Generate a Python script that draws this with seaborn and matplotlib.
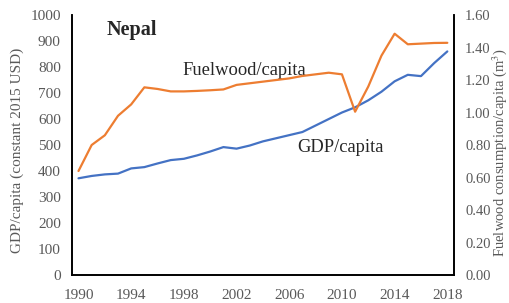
import numpy as np
import pandas as pd
import matplotlib
matplotlib.use("Agg")
import matplotlib.pyplot as plt
import seaborn as sns
from matplotlib.ticker import FormatStrFormatter

years = list(range(1990, 2019))
gdp = [372, 381, 387, 390, 410, 415, 429, 442, 447, 460,
       475, 492, 486, 498, 514, 526, 538, 550, 575, 600,
       625, 645, 672, 705, 745, 770, 765, 815, 860]
fuelwood = [0.64, 0.80, 0.86, 0.98, 1.05, 1.155, 1.145, 1.13, 1.13, 1.133,
            1.137, 1.142, 1.17, 1.18, 1.19, 1.20, 1.21, 1.225, 1.235, 1.245,
            1.235, 1.005, 1.16, 1.35, 1.485, 1.42, 1.424, 1.428, 1.429]

df = pd.DataFrame({"year": years, "gdp": gdp, "fuelwood": fuelwood})

sns.set_style("white")
plt.rcParams['font.family'] = ['Liberation Serif', 'DejaVu Serif']
plt.rcParams['mathtext.fontset'] = 'stix'

grey = '#595959'
fig = plt.figure(figsize=(5.1, 3.03), dpi=100)
ax = fig.add_axes([0.141, 0.0924, 0.749, 0.858])
ax2 = ax.twinx()

sns.lineplot(data=df, x="year", y="gdp", ax=ax, color='#4472C4', linewidth=1.6)
sns.lineplot(data=df, x="year", y="fuelwood", ax=ax2, color='#ED7D31', linewidth=1.6)
for a in (ax, ax2):
    for ln in a.get_lines():
        ln.set_solid_joinstyle('round')
        ln.set_solid_capstyle('round')

ax.set_xlim(1989.5, 2018.5)
ax.set_ylim(0, 1000)
ax2.set_ylim(0, 1.6)
ax.set_xticks(range(1990, 2019, 4))
ax.set_yticks(range(0, 1001, 100))
ax2.set_yticks(np.arange(0, 1.61, 0.2))
ax2.yaxis.set_major_formatter(FormatStrFormatter('%.2f'))

ax.set_xlabel('')
ax.set_ylabel('GDP/capita (constant 2015 USD)', fontsize=11, color=grey,
              ha='center', va='center')
ax.yaxis.set_label_coords(-0.142, 0.48)
ax2.set_ylabel('Fuelwood consumption/capita (m$^3$)', fontsize=10.5, color=grey,
               ha='center', va='center')
ax2.yaxis.set_label_coords(1.119, 0.47)

ax.tick_params(axis='both', length=0, labelsize=11, labelcolor=grey)
ax.tick_params(axis='y', pad=8)
ax.tick_params(axis='x', pad=10)
ax2.tick_params(axis='y', length=0, labelsize=10.5, labelcolor=grey, pad=8)

for a in (ax, ax2):
    a.spines['top'].set_visible(False)
    for s in ('left', 'right', 'bottom'):
        a.spines[s].set_color('black')
        a.spines[s].set_linewidth(1.2)

ax.text(0.092, 0.942, 'Nepal', transform=ax.transAxes, fontsize=14.5,
        fontweight='bold', ha='left', va='center')
ax.text(0.29, 0.788, 'Fuelwood/capita', transform=ax.transAxes, fontsize=13.3,
        ha='left', va='center')
ax.text(0.589, 0.492, 'GDP/capita', transform=ax.transAxes, fontsize=13.3,
        ha='left', va='center')

fig.savefig('out.png', dpi=100)
